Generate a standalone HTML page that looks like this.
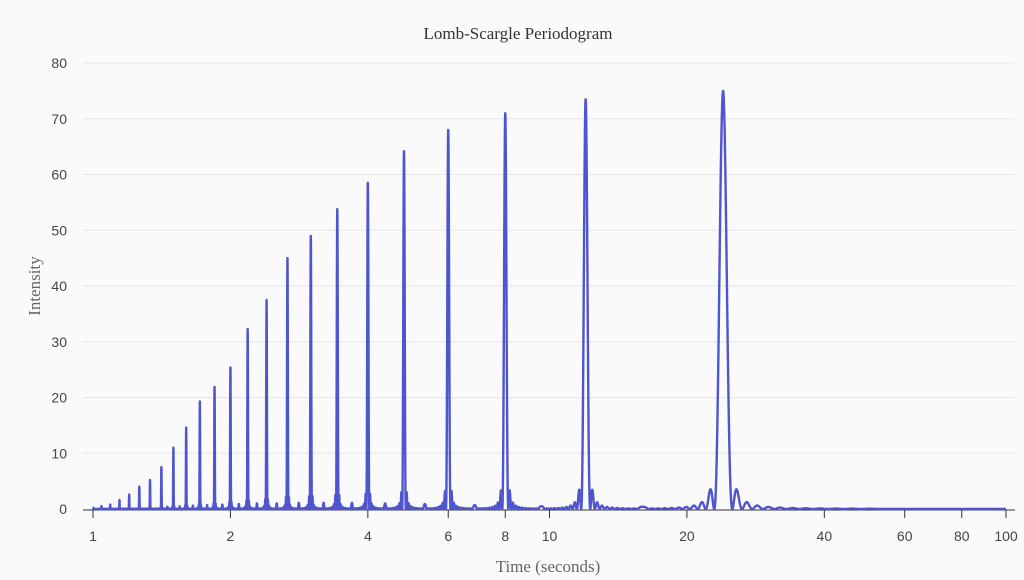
<!DOCTYPE html>
<html><head><meta charset="utf-8"><style>
html,body{margin:0;padding:0;background:#fafafa;}
svg{display:block;font-family:"Liberation Sans",sans-serif;}
</style></head><body>
<svg id="chart" width="1024" height="580">
<rect width="1024" height="580" fill="#fafafa"/>
<text x="518" y="39" text-anchor="middle" font-family="Liberation Serif,serif" font-size="17" fill="#333">Lomb-Scargle Periodogram</text>
<text x="548" y="572" text-anchor="middle" font-family="Liberation Serif,serif" font-size="17" fill="#666">Time (seconds)</text>
<text transform="translate(40,286) rotate(-90)" text-anchor="middle" font-family="Liberation Serif,serif" font-size="17" fill="#666">Intensity</text>
<g id="grid"></g><g id="axes"></g><g id="series"></g>
</svg>
<script>
const periods = [24,12,8,6,4.8,4,3.4286,3,2.6667,2.4,2.1818,2,1.8462,1.7143,1.6,1.5,1.4118,1.3333,1.2632,1.2,1.1429,1.0909,1.0435,1];
const heights = [75,73.5,71,68,64.2,58.5,53.8,49,45,37.5,32.3,25.4,21.9,19.3,14.6,11,7.5,5.2,4,2.6,1.6,0.8,0.5,0.3];
const minorPeriods = [16,9.6,6.857,5.333,4.364,3.692,3.2,2.824,2.526,2.286,2.087,1.92,1.778,1.655,1.548,1.455];
const minorHeights = [0.4,0.5,0.7,0.9,1.0,1.1,1.1,1.1,1.0,1.0,0.9,0.8,0.7,0.6,0.5,0.4];
const yTicks = [0,10,20,30,40,50,60,70,80];
const xTicks = [1,2,4,6,8,10,20,40,60,80,100];
const NS="http://www.w3.org/2000/svg";
const x0=93,x1=1006,y0=509,y1=63;
const xs=v=>x0+(x1-x0)*Math.log10(v)/2;
const ys=v=>y0-(y0-y1)*v/80;
function mk(t,a,p){const e=document.createElementNS(NS,t);for(const k in a)e.setAttribute(k,a[k]);p.appendChild(e);return e;}
const grid=document.getElementById('grid'),axes=document.getElementById('axes'),series=document.getElementById('series');
yTicks.forEach(v=>{
 if(v>0){const l=mk('line',{x1:83,x2:1015,y1:ys(v),y2:ys(v),stroke:'#e6e6e6'},grid);
 
 }
 const t=mk('text',{x:67,y:ys(v)+5,'text-anchor':'end','font-size':14,fill:'#444'},axes);t.textContent=v;
 
 
});
const ax=mk('line',{x1:83,x2:1015,y1:510,y2:510,stroke:'#333'},axes);


xTicks.forEach(v=>{
 const tk=mk('line',{x1:xs(v),x2:xs(v),y1:510,y2:518,stroke:'#333'},axes);
 
 
 const t=mk('text',{x:xs(v),y:541,'text-anchor':'middle','font-size':14,fill:'#444'},axes);t.textContent=v;
 
 
});
const w=0.0019;
function sinc2(u){if(Math.abs(u)<1e-9)return 1;const s=Math.sin(Math.PI*u)/(Math.PI*u);return s*s;}
let d='';
for(let f=1.0;f>=0.01;f-=0.00005){
 let v=0;
 for(let i=0;i<periods.length;i++){const u=(f-1/periods[i])/w;if(Math.abs(u)<12)v+=heights[i]*sinc2(u);}
 for(let i=0;i<minorPeriods.length;i++){const u=(f-1/minorPeriods[i])/w;if(Math.abs(u)<6)v+=minorHeights[i]*sinc2(u);}
 const T=1/f;
 d+=(d?'L':'M')+xs(T).toFixed(2)+','+ys(v).toFixed(2);
}
const p=mk('path',{d:d,fill:'none',stroke:'#4f55cf','stroke-width':2.4,'stroke-linejoin':'round'},series);


</script>
</body></html>
